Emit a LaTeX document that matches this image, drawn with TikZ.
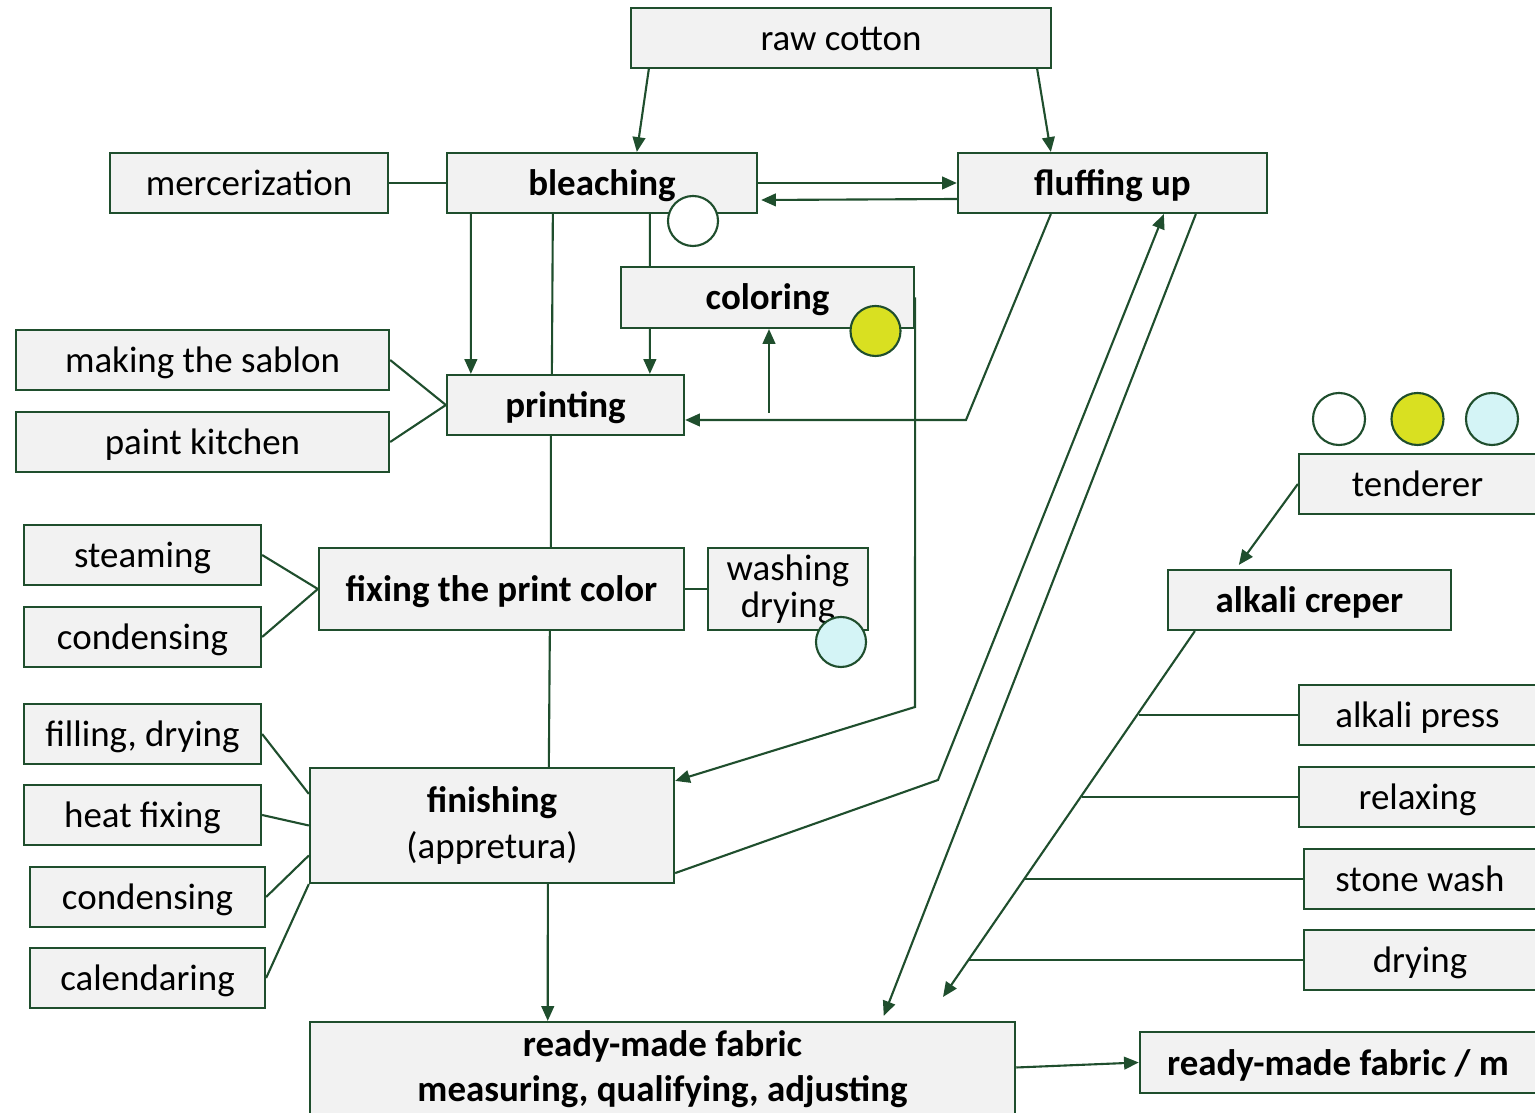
\documentclass[tikz,border=0pt]{standalone}
\usepackage{fontspec}
\setmainfont{Carlito}
\usetikzlibrary{arrows.meta,calc}
\definecolor{dg}{RGB}{31,78,45}
\definecolor{bf}{RGB}{242,242,242}
\definecolor{yel}{RGB}{217,224,33}
\definecolor{cy}{RGB}{212,244,246}
\begin{document}
\begin{tikzpicture}[x=0.01cm,y=-0.01cm,
  base/.style={draw=dg, fill=bf, line width=0.6pt, inner sep=0pt,
    font=\fontsize{10.5}{12.8}\selectfont},
  box/.style={base, text height=0.28cm, text depth=0.03cm},
  bbox/.style={box, font=\fontsize{10.5}{12.8}\selectfont\bfseries},
  ln/.style={draw=dg, line width=0.6pt},
  arr/.style={ln, -{Triangle[length=4.2pt,width=3.6pt]}},
  dot/.style={circle, draw=dg, line width=0.6pt, minimum size=0.5cm, inner sep=0pt}]
\useasboundingbox (0,0) rectangle (1535,1113);

% boxes
\node[box, minimum width=4.2cm, minimum height=0.6cm] (raw) at (841,38) {raw cotton};
\node[box, minimum width=2.78cm, minimum height=0.6cm] (merc) at (249,183) {mercerization};
\node[bbox, minimum width=3.1cm, minimum height=0.6cm] (bleach) at (602,183) {bleaching};
\node[bbox, minimum width=3.09cm, minimum height=0.6cm] (fluff) at (1112.5,183) {fluffing up};
\node[bbox, minimum width=2.93cm, minimum height=0.61cm] (color) at (767.5,297.5) {coloring};
\node[box, minimum width=3.73cm, minimum height=0.6cm] (sablon) at (202.5,360) {making the sablon};
\node[box, minimum width=3.73cm, minimum height=0.6cm] (paint) at (202.5,442) {paint kitchen};
\node[bbox, minimum width=2.37cm, minimum height=0.6cm] (print) at (565.5,405) {printing};
\node[box, minimum width=2.37cm, minimum height=0.6cm] (steam) at (142.5,555) {steaming};
\node[box, minimum width=2.37cm, minimum height=0.6cm] (cond1) at (142.5,637) {condensing};
\node[bbox, minimum width=3.65cm, minimum height=0.82cm] (fix) at (501.5,589) {fixing the print color};
\node[base, minimum width=1.6cm, minimum height=0.82cm, align=center,
  font=\fontsize{10.5}{10.6}\selectfont] (wash) at (788,589) {washing\\drying};
\node[box, minimum width=2.37cm, minimum height=0.6cm] (tend) at (1417.5,484) {tenderer};
\node[bbox, minimum width=2.83cm, minimum height=0.6cm] (alkc) at (1309.5,600) {alkali creper};
\node[box, minimum width=2.37cm, minimum height=0.6cm] (apress) at (1417.5,715) {alkali press};
\node[box, minimum width=2.37cm, minimum height=0.6cm] (relax) at (1417.5,797) {relaxing};
\node[box, minimum width=2.32cm, minimum height=0.6cm] (stone) at (1420,879) {stone wash};
\node[box, minimum width=2.32cm, minimum height=0.6cm] (dry) at (1420,960) {drying};
\node[box, minimum width=2.37cm, minimum height=0.6cm] (fill) at (142.5,734) {filling, drying};
\node[box, minimum width=2.37cm, minimum height=0.6cm] (heat) at (142.5,815) {heat fixing};
\node[box, minimum width=2.35cm, minimum height=0.6cm] (cond2) at (147.5,897) {condensing};
\node[box, minimum width=2.35cm, minimum height=0.6cm] (cal) at (147.5,978) {calendaring};
\node[base, minimum width=3.64cm, minimum height=1.15cm, align=center] (fin) at (492,825.5) {\textbf{finishing}\\(appretura)};
\node[base, minimum width=7.05cm, minimum height=0.95cm, align=center,
  font=\fontsize{10.5}{12.8}\selectfont\bfseries] (ready) at (662.5,1069.5) {ready-made fabric\\measuring, qualifying, adjusting};
\node[bbox, minimum width=3.96cm, minimum height=0.61cm] (rmm) at (1338,1062.5) {ready-made fabric / m};

% helper coordinates
\coordinate (k1) at (966,420);
\coordinate (k2) at (769,413);
\coordinate (k3) at (915,707);
\coordinate (k4) at (938,780);
\coordinate (k5) at (943,997);
\coordinate (b1) at (1139,715);
\coordinate (b2) at (1082,797);
\coordinate (b3) at (1025,879);
\coordinate (b4) at (969,960);

% connectors
\draw[arr] ($(raw.south west)+(19,0)$) -- ($(bleach.north west)+(191,0)$);
\draw[arr] ($(raw.south east)+(-15,0)$) -- ($(fluff.north west)+(94,0)$);
\draw[ln] (merc.east) -- (bleach.west);
\draw[arr] (bleach.east) -- (fluff.west);
\draw[arr] ($(fluff.west)+(0,16)$) -- ($(bleach.east)+(3,17)$);
\draw[arr] ($(bleach.south west)+(25,0)$) -- ($(print.north west)+(25,0)$);
\draw[ln] ($(bleach.south west)+(107,0)$) -- ($(print.north west)+(106,0)$);
\draw[ln] ($(print.south west)+(105,0)$) -- ($(fix.north west)+(233,0)$);
\draw[ln] ($(fix.south west)+(232,0)$) -- ($(fin.north west)+(240,0)$);
\draw[arr] ($(fin.south west)+(239,0)$) -- ($(ready.north west)+(239,0)$);
\draw[ln] ($(bleach.south west)+(204,0)$) -- ($(color.north west)+(30,0)$);
\draw[arr] ($(color.south west)+(30,0)$) -- ($(print.north west)+(204,0)$);
\draw[arr] ($(fluff.south west)+(94,0)$) -- (k1) -- ($(print.east)+(0,15)$);
\draw[arr] (k2) -- (k2 |- color.south);
\draw[arr] (color.east) -- (k3) -- ($(fin.north east)+(0,14)$);
\draw[arr] ($(fin.south east)+(0,-11)$) -- (k4) -- ($(fluff.south west)+(207,0)$);
\draw[arr] ($(fluff.south west)+(239,0)$) -- ($(ready.north west)+(575,-5)$);
\draw[arr] ($(alkc.south west)+(28,0)$) -- (k5);
\draw[ln] (apress.west) -- (b1);
\draw[ln] (relax.west) -- (b2);
\draw[ln] (stone.west) -- (b3);
\draw[ln] (dry.west) -- (b4);
\draw[arr] (tend.west) -- ($(alkc.north west)+(72,-4)$);
\draw[ln] (sablon.east) -- (print.west);
\draw[ln] (paint.east) -- (print.west);
\draw[ln] (steam.east) -- (fix.west);
\draw[ln] (cond1.east) -- (fix.west);
\draw[ln] (fix.east) -- (wash.west);
\draw[ln] (fill.east) -- ($(fin.north west)+(0,27)$);
\draw[ln] (heat.east) -- (fin.west);
\draw[ln] (cond2.east) -- ($(fin.west)+(0,30)$);
\draw[ln] (cal.east) -- (fin.south west);
\draw[arr] ($(ready.east)+(0,-2)$) -- (rmm.west);

% circles
\node[dot, fill=white] (c1) at (693,221) {};
\node[dot, fill=yel] (c2) at (875.5,331) {};
\node[dot, fill=cy] (c3) at (841,642) {};
\node[dot, fill=white, minimum size=0.52cm] (c4) at (1339,419) {};
\node[dot, fill=yel, minimum size=0.52cm] (c5) at (1417.5,419) {};
\node[dot, fill=cy, minimum size=0.52cm] (c6) at (1492,419) {};
\end{tikzpicture}
\end{document}
